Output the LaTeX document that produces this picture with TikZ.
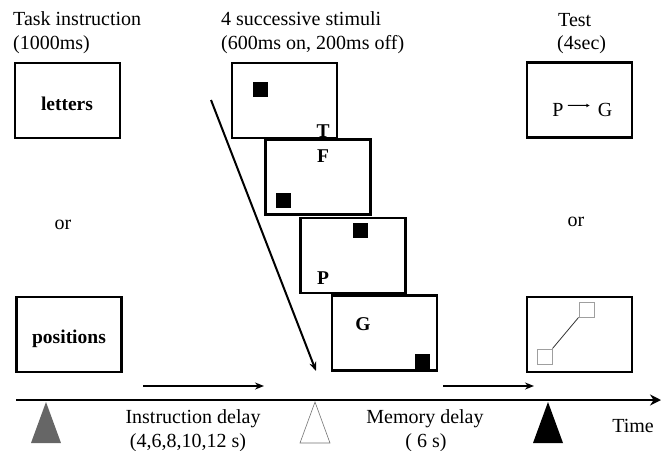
\documentclass[tikz,border=0pt]{standalone}
\usepackage{fontspec}
\setmainfont{Liberation Serif}
\usetikzlibrary{arrows.meta,calc}
\begin{document}
\begin{tikzpicture}[x=1pt,y=-1pt,
  lbl/.style={font=\fontsize{20}{24}\selectfont, inner sep=0pt, anchor=base west},
  lblc/.style={font=\fontsize{20}{24}\selectfont, inner sep=0pt, anchor=base},
  bld/.style={font=\fontsize{19.5}{24}\selectfont\bfseries, inner sep=0pt, anchor=base},
  frame/.style={draw, line width=2.7pt, fill=white, minimum width=105pt, minimum height=75pt, inner sep=0pt},
  dot/.style={fill=black, minimum size=15pt, inner sep=0pt},
  hollow/.style={draw=gray!75, line width=1pt, minimum size=15pt, inner sep=0pt},
  flow/.style={line width=2pt, -{Stealth[length=9pt,width=7pt]}},
  tri/.style={line width=0.6pt}
]
\useasboundingbox (0,0) rectangle (671,450);

% headings
\node[lbl] (h1a) at (13,25) {Task instruction};
\node[lbl] (h1b) at (13,49) {(1000ms)};
\node[lbl] (h2a) at (221,25) {4 successive stimuli};
\node[lbl] (h2b) at (221,49) {(600ms on, 200ms off)};
\node[lbl] (h3a) at (558,26) {Test};
\node[lbl] (h3b) at (557,49) {(4sec)};

% instruction boxes
\node[frame] (letters) at (67.5,100.5) {};
\node[bld] (lettersT) at (67,110) {letters};
\node[lblc] (or1) at (63,229) {or};
\node[frame] (positions) at (69,334.5) {};
\node[bld] (positionsT) at (69,343) {positions};

% stimuli
\node[frame] (b1) at (284.5,100.5) {};
\node[dot] (d1) at (260.5,89.5) {};
\node[frame] (b2) at (318,177) {};
\node[bld] (tT) at (323,137) {T};
\node[bld] (tF) at (323,162) {F};
\node[dot] (d2) at (283.5,200) {};
\node[frame] (b3) at (353,255.5) {};
\node[dot] (d3) at (360.5,230.5) {};
\node[bld] (tP) at (323,284) {P};
\node[frame] (b4) at (384.5,333) {};
\node[bld] (tG) at (363,330) {G};
\node[dot] (d4) at (422.5,361.5) {};

\coordinate (diagS) at (211,100);
\coordinate (diagE) at (316,371);
\draw[flow] (diagS) -- (diagE);

% test boxes
\node[frame] (t1) at (579.5,100) {};
\node[lblc] (tp) at (558,116) {P};
\node[lblc] (tg) at (605,116) {G};
\draw[line width=1pt, -{Stealth[length=3.5pt,width=3.5pt]}] ($(tp.east)+(4,-4)$) -- ($(tg.west)+(-8,-4)$);
\node[lblc] (or2) at (576,226) {or};
\node[frame] (t2) at (579.5,334.5) {};
\node[hollow] (s1) at (544.5,356.5) {};
\node[hollow] (s2) at (586.5,309.5) {};
\draw[line width=0.8pt, black!80] (s1.north east) -- (s2.south west);

% timeline
\coordinate (ax0) at (16,400);
\coordinate (ax1) at (661,400);
\draw[line width=2.5pt, -{Stealth[length=11pt,width=11pt]}] (ax0) -- (ax1);

\coordinate (ia0) at (143,386);
\coordinate (ia1) at (264,386);
\draw[flow] (ia0) -- (ia1);
\coordinate (ma0) at (443,386);
\coordinate (ma1) at (534,386);
\draw[flow] (ma0) -- (ma1);

\fill[black!60] (46,402) -- (61,443) -- (31,443) -- cycle;
\draw[tri, draw=black!55, fill=white] (315,402) -- (330,443) -- (300,443) -- cycle;
\fill[black] (548,402) -- (563,443) -- (533,443) -- cycle;

\node[lblc] (id1) at (193,423) {Instruction delay};
\node[lblc] (id2) at (188,447) {(4,6,8,10,12 s)};
\node[lblc] (md1) at (425,423) {Memory delay};
\node[lblc] (md2) at (426,447) {( 6 s)};
\node[lblc] (time) at (633,432) {Time};
\end{tikzpicture}
\end{document}
